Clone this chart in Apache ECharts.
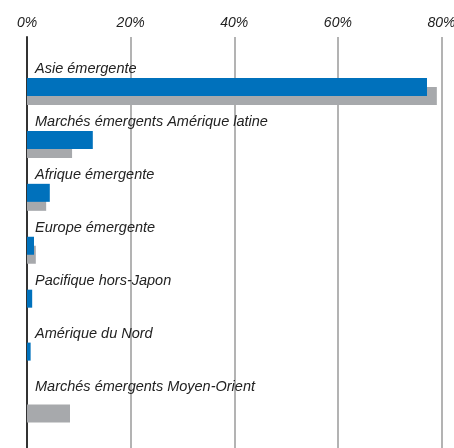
<!DOCTYPE html>
<html>
<head>
<meta charset="utf-8">
<script src="https://cdn.jsdelivr.net/npm/echarts@6/dist/echarts.min.js"></script>
<style>
html,body{margin:0;padding:0;background:#fff;}
#chart{width:454px;height:448px;}
</style>
</head>
<body>
<div id="chart"></div>
<script>
const categories = ['Asie émergente', 'Marchés émergents Amérique latine', 'Afrique émergente', 'Europe émergente', 'Pacifique hors-Japon', 'Amérique du Nord', 'Marchés émergents Moyen-Orient'];
const fundValues = [77.2, 12.7, 4.4, 1.35, 1.0, 0.7, 0];
const benchmarkValues = [79.1, 8.7, 3.7, 1.7, 0, 0, 8.3];
const xTicks = [0, 20, 40, 60, 80];

const fontFamily = '"Liberation Sans", Arial, sans-serif';
const chart = echarts.init(document.getElementById('chart'), null, {renderer: 'canvas'});
chart.setOption({
  animation: false,
  backgroundColor: '#fff',
  grid: [
    {left: 27, right: 12.5, top: 37, bottom: 0, outerBoundsMode: 'none', containLabel: false},
    {left: 27, right: 12.5, top: 65, bottom: 12.5, outerBoundsMode: 'none', containLabel: false}
  ],
  xAxis: [
    {
      gridIndex: 0, type: 'value', position: 'top',
      min: xTicks[0], max: xTicks[xTicks.length - 1], interval: xTicks[1] - xTicks[0],
      axisLine: {show: false}, axisTick: {show: false},
      axisLabel: {formatter: '{value}%', fontStyle: 'italic', fontSize: 14, color: '#222', fontFamily: fontFamily, margin: 7},
      splitLine: {show: true, lineStyle: {color: '#b3b3b3', width: 2}}
    },
    {
      gridIndex: 1, type: 'value',
      min: xTicks[0], max: xTicks[xTicks.length - 1],
      show: false, splitLine: {show: false}
    }
  ],
  yAxis: [
    {
      gridIndex: 0, type: 'value', min: 0, max: 1,
      axisLine: {show: true, lineStyle: {color: '#333', width: 2}},
      axisTick: {show: false}, axisLabel: {show: false}, splitLine: {show: false}
    },
    {
      gridIndex: 1, type: 'category', data: categories, inverse: true,
      axisLine: {show: false}, axisTick: {show: false}, splitLine: {show: false},
      axisLabel: {
        inside: true, margin: 8, verticalAlign: 'middle', interval: 0,
        showMinLabel: true, showMaxLabel: true, hideOverlap: false,
        formatter: function (v) { return '{t|' + v + '}\n{s|}'; },
        rich: {
          t: {fontStyle: 'italic', fontSize: 14.5, color: '#222', fontFamily: fontFamily, height: 16, lineHeight: 16},
          s: {height: 45, lineHeight: 45}
        }
      },
      z: 5
    }
  ],
  series: [
    {
      name: 'Fonds', type: 'bar', xAxisIndex: 1, yAxisIndex: 1,
      data: fundValues, barWidth: 18, barGap: '-50%',
      itemStyle: {color: '#0071bc'}, z: 3
    },
    {
      name: 'Indice', type: 'bar', xAxisIndex: 1, yAxisIndex: 1,
      data: benchmarkValues, barWidth: 18, barGap: '-50%',
      itemStyle: {color: '#a7a9ac'}, z: 2
    }
  ]
});
</script>
</body>
</html>
